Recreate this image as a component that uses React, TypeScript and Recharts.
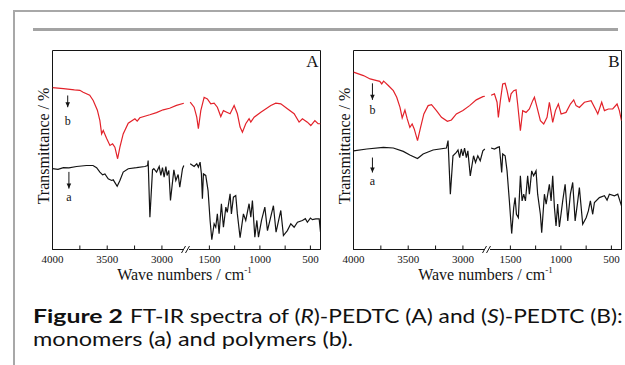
import React from "react";
import {
  LineChart,
  Line,
  XAxis,
  YAxis,
  ReferenceArea,
  ReferenceDot,
  ReferenceLine,
} from "recharts";

type Pt = [number, number];

// wavenumber ticks (cm-1)
const MAJOR_TICKS = [4000, 3500, 3000, 1500, 1000, 500];
const MINOR_TICKS = [3750, 3250, 1250, 750];

// broken axis: 4000-2800 then 1700-400
const HIGH_START = 4000;
const HIGH_END = 2800;
const LOW_START = 1700;
const LOW_END = 400;

// (R)-PEDTC, panel A  [wavenumber, transmittance]
const A_POLYMER: Pt[] = [
  [4000, 81.3], [3900, 80.8], [3800, 80.2], [3750, 80.0], [3720, 79.0], [3660, 77.5],
  [3628, 74.9], [3590, 70.0], [3567, 64.8], [3551, 58.1], [3536, 59.8], [3505, 55.8],
  [3475, 52.3], [3451, 53.1], [3430, 51.4], [3405, 45.6], [3384, 51.4], [3354, 58.1],
  [3308, 63.5], [3247, 65.7], [3226, 64.5], [3202, 66.2], [3111, 67.7], [3050, 68.8],
  [2989, 70.2], [2930, 71.0], [2867, 72.4], [2800, 73.5],
  [1690, 74.0], [1651, 71.5], [1625, 66.5], [1609, 60.7], [1585, 69.8], [1552, 76.5],
  [1520, 75.7], [1486, 73.2], [1453, 73.5], [1421, 71.5], [1387, 66.8], [1361, 69.8],
  [1328, 69.0], [1295, 68.2], [1255, 72.4], [1223, 68.2], [1196, 61.5], [1173, 58.9],
  [1140, 63.2], [1107, 65.7], [1090, 64.0], [1057, 66.5], [991, 69.0], [892, 72.4],
  [843, 73.5], [793, 73.2], [728, 70.7], [661, 68.2], [612, 64.0], [579, 65.7],
  [530, 64.0], [496, 62.3], [456, 64.8], [424, 63.2], [400, 63.2],
];

const A_MONOMER: Pt[] = [
  [4000, 40.6], [3950, 40.3], [3900, 41.1], [3850, 41.0], [3780, 41.7], [3690, 42.2],
  [3630, 42.2], [3597, 41.1], [3567, 38.9], [3542, 37.5], [3521, 38.0], [3491, 35.5],
  [3460, 34.7], [3445, 35.0], [3409, 31.8], [3384, 34.7], [3354, 38.9], [3308, 40.6],
  [3232, 41.1], [3156, 41.7], [3131, 42.2], [3126, 44.7], [3110, 16.2], [3086, 40.0],
  [3074, 40.6], [3049, 38.9], [3025, 41.7], [3010, 37.2], [2995, 41.1], [2980, 36.3],
  [2964, 41.7], [2953, 37.2], [2937, 39.7], [2922, 24.6], [2891, 40.0], [2873, 34.7],
  [2852, 37.7], [2837, 31.3], [2812, 40.6], [2800, 42.2],
  [1690, 43.1], [1651, 41.7], [1625, 43.1], [1609, 41.4], [1592, 43.9], [1579, 38.0],
  [1569, 25.5], [1559, 38.0], [1536, 37.2], [1513, 29.6], [1493, 14.6], [1476, 4.9],
  [1453, 12.9], [1437, 11.2], [1421, 17.9], [1404, 7.9], [1381, 23.0], [1361, 11.2],
  [1337, 21.3], [1323, 18.7], [1295, 28.0], [1282, 17.9], [1262, 26.3], [1239, 27.1],
  [1223, 17.9], [1196, 5.9], [1163, 17.9], [1140, 14.6], [1107, 23.0], [1090, 16.2],
  [1074, 24.6], [1050, 6.2], [1030, 14.6], [1014, 6.2], [984, 14.6], [951, 21.3],
  [925, 9.5], [866, 22.0], [840, 8.7], [793, 19.6], [767, 7.0], [728, 9.5],
  [694, 12.9], [661, 11.2], [628, 13.7], [579, 14.6], [550, 15.5], [530, 13.7],
  [500, 15.8], [480, 15.0], [446, 15.4], [413, 15.4], [400, 8.7],
];

// (S)-PEDTC, panel B
const B_POLYMER: Pt[] = [
  [4000, 89.1], [3909, 87.4], [3848, 85.7], [3787, 84.9], [3760, 84.5], [3742, 83.2],
  [3725, 84.6], [3712, 84.0], [3682, 82.4], [3636, 79.8], [3605, 76.5], [3575, 71.4],
  [3555, 66.1], [3530, 70.1], [3509, 65.6], [3485, 61.4], [3464, 63.1], [3445, 60.6],
  [3415, 54.7], [3387, 61.4], [3357, 68.1], [3318, 72.3], [3287, 72.8], [3242, 69.8],
  [3196, 66.4], [3142, 64.4], [3105, 65.1], [3060, 68.1], [3000, 69.8], [2939, 72.3],
  [2878, 75.2], [2818, 76.8], [2800, 77.0],
  [1691, 77.5], [1658, 78.2], [1632, 74.0], [1619, 66.4], [1599, 74.8], [1576, 83.2],
  [1552, 83.5], [1533, 79.8], [1510, 74.0], [1493, 78.2], [1467, 79.8], [1444, 80.2],
  [1428, 73.1], [1401, 59.7], [1378, 69.8], [1345, 68.9], [1312, 70.6], [1279, 74.8],
  [1262, 76.5], [1236, 71.4], [1203, 64.7], [1170, 63.1], [1137, 66.4], [1114, 74.0],
  [1097, 68.9], [1081, 63.9], [1054, 69.8], [1025, 73.1], [998, 68.1], [949, 68.9],
  [906, 73.1], [873, 75.2], [850, 72.3], [817, 71.4], [767, 74.0], [701, 74.8],
  [651, 69.8], [635, 68.1], [596, 74.0], [569, 69.8], [530, 70.6], [487, 70.6],
  [444, 73.1], [421, 69.8], [400, 64.7],
];

const B_MONOMER: Pt[] = [
  [4000, 49.6], [3878, 50.5], [3727, 51.3], [3636, 51.0], [3545, 49.3], [3485, 47.5],
  [3415, 45.7], [3364, 48.0], [3273, 50.0], [3151, 51.0], [3136, 54.7], [3115, 27.8],
  [3091, 47.1], [3060, 48.8], [3045, 50.0], [3030, 46.2], [3015, 50.5], [3000, 47.1],
  [2985, 51.0], [2969, 46.2], [2955, 49.6], [2933, 37.0], [2903, 47.1], [2885, 43.7],
  [2864, 47.1], [2842, 44.6], [2818, 49.6], [2800, 50.5],
  [1691, 51.0], [1658, 50.5], [1626, 51.3], [1609, 51.6], [1599, 46.2], [1586, 38.7],
  [1576, 48.0], [1552, 47.1], [1533, 39.5], [1510, 24.4], [1487, 8.0], [1467, 21.1],
  [1453, 26.1], [1440, 17.7], [1421, 16.0], [1401, 37.0], [1384, 24.4], [1368, 27.8],
  [1351, 24.4], [1329, 37.0], [1312, 27.8], [1289, 39.5], [1270, 37.0], [1246, 39.5],
  [1230, 27.8], [1203, 17.7], [1190, 8.5], [1163, 27.8], [1146, 22.8], [1114, 32.8],
  [1097, 24.4], [1081, 37.0], [1064, 21.1], [1048, 11.8], [1032, 22.8], [1015, 11.3],
  [982, 24.4], [958, 32.8], [932, 14.4], [906, 27.8], [883, 33.7], [859, 14.4],
  [833, 24.4], [817, 31.1], [784, 12.7], [750, 16.0], [728, 19.4], [708, 24.4],
  [685, 17.7], [668, 23.6], [619, 26.1], [569, 27.0], [543, 24.8], [520, 27.8],
  [470, 27.0], [437, 27.8], [400, 21.9],
];

// arrow markers: [wavenumber, arrow top, arrow tip, label position]
const A_MARK_POLY = [3861, 77.4, 71.5, 64.6];
const A_MARK_MONO = [3850, 39.0, 30.6, 26.6];
const B_MARK_POLY = [3827, 83.5, 75.2, 70.1];
const B_MARK_MONO = [3827, 46.2, 38.7, 34.5];

const RED = "#e3222a";
const INK = "#141414";
const SERIF = "'Liberation Serif', 'Times New Roman', serif";
const SANS = "Lato, 'Open Sans', sans-serif";

const toU = (w: number) =>
  w >= HIGH_END
    ? ((HIGH_START - w) / (HIGH_START - HIGH_END)) * 49
    : 51 + ((LOW_START - w) / (LOW_START - LOW_END)) * 49;

const TICK_W = [...MAJOR_TICKS, ...MINOR_TICKS];
const TICK_U = TICK_W.map(toU);

const split = (pts: Pt[]) => [
  pts.filter((p) => p[0] >= HIGH_END).map(([w, t]) => ({ u: toU(w), t })),
  pts.filter((p) => p[0] <= LOW_START).map(([w, t]) => ({ u: toU(w), t })),
];

const AxisTick = (props: any) => {
  const { x, y, payload } = props;
  const w = TICK_W[TICK_U.indexOf(payload.value)];
  return (
    <g>
      <line x1={x} x2={x} y1={y} y2={y - 4} stroke={INK} strokeWidth={1} />
      {MAJOR_TICKS.includes(w) && (
        <text x={x} y={y + 13} textAnchor="middle" fontFamily={SERIF} fontSize={11} fill={INK}>
          {w}
        </text>
      )}
    </g>
  );
};

const XLabel = (props: any) => {
  const vb = props.viewBox;
  const cx = vb.x + vb.width / 2 - 2;
  return (
    <text x={cx} y={vb.y + 30.5} textAnchor="middle" fontFamily={SERIF} fontSize={16} fill={INK}>
      Wave numbers / cm
      <tspan dy={-7} fontSize={9}>-1</tspan>
    </text>
  );
};

const YLabel = (props: any) => {
  const vb = props.viewBox;
  const cx = vb.x + vb.width / 2;
  const cy = vb.y + vb.height / 2 - 4;
  return (
    <text
      x={cx}
      y={cy}
      transform={`rotate(-90 ${cx} ${cy})`}
      textAnchor="middle"
      dominantBaseline="central"
      fontFamily={SERIF}
      fontSize={16}
      fill={INK}
    >
      Transmittance / %
    </text>
  );
};

const arrowHead = (props: any) => {
  const { cx, cy } = props;
  return <polygon points={`${cx - 2.3},${cy - 5} ${cx + 2.3},${cy - 5} ${cx},${cy}`} fill={INK} />;
};

const letterShape = (text: string) => (props: any) => (
  <text
    x={props.cx}
    y={props.cy}
    textAnchor="middle"
    dominantBaseline="central"
    fontFamily={SERIF}
    fontSize={12}
    fill={INK}
  >
    {text}
  </text>
);

const breakShape = (props: any) => {
  const { cx, cy } = props;
  return (
    <g>
      <rect x={cx - 2.5} y={cy - 1.5} width={5} height={3} fill="#fff" />
      <line x1={cx - 5} y1={cy + 3.5} x2={cx - 1} y2={cy - 3.5} stroke={INK} />
      <line x1={cx - 1} y1={cy + 3.5} x2={cx + 3} y2={cy - 3.5} stroke={INK} />
    </g>
  );
};

interface PanelProps {
  letter: string;
  polymer: Pt[];
  monomer: Pt[];
  markPoly: number[];
  markMono: number[];
  width: number;
  left: number;
  right: number;
}

const Panel: React.FC<PanelProps> = ({ letter, polymer, monomer, markPoly, markMono, width, left, right }) => {
  const polySegs = split(polymer);
  const monoSegs = split(monomer);

  const arrow = (m: number[], label: string) => [
    <ReferenceLine
      key={`${label}-shaft`}
      segment={[
        { x: toU(m[0]), y: m[1] },
        { x: toU(m[0]), y: m[2] },
      ]}
      stroke={INK}
      strokeWidth={1}
      ifOverflow="visible"
    />,
    <ReferenceDot key={`${label}-head`} x={toU(m[0])} y={m[2]} r={0} shape={arrowHead} ifOverflow="visible" />,
    <ReferenceDot key={`${label}-text`} x={toU(m[0])} y={m[3]} r={0} shape={letterShape(label)} ifOverflow="visible" />,
  ];

  return (
    <LineChart width={width} height={290} margin={{ top: 50.5, right, bottom: 0, left }}>
      <XAxis
        type="number"
        dataKey="u"
        domain={[0, 100]}
        ticks={TICK_U}
        interval={0}
        tick={AxisTick}
        tickLine={false}
        tickSize={0}
        tickMargin={0}
        axisLine={{ stroke: INK }}
        height={40.5}
        allowDataOverflow
        label={{ content: XLabel }}
      />
      <YAxis
        type="number"
        domain={[0, 100]}
        width={19}
        tick={false}
        tickLine={false}
        axisLine={false}
        allowDataOverflow
        label={{ content: YLabel }}
      />
      <ReferenceArea
        x1={0}
        x2={100}
        y1={0}
        y2={100}
        fill="none"
        fillOpacity={0}
        stroke={INK}
        strokeWidth={1}
        ifOverflow="visible"
        label={{
          content: (p: any) => (
            <text
              x={p.viewBox.x + p.viewBox.width - 2}
              y={p.viewBox.y + 16.5}
              textAnchor="end"
              fontFamily={SERIF}
              fontSize={17}
              fill={INK}
            >
              {letter}
            </text>
          ),
        }}
      />
      {polySegs.map((d, i) => (
        <Line
          key={`p${i}`}
          data={d}
          dataKey="t"
          type="linear"
          stroke={RED}
          strokeWidth={1.2}
          dot={false}
          activeDot={false}
          isAnimationActive={false}
        />
      ))}
      {monoSegs.map((d, i) => (
        <Line
          key={`m${i}`}
          data={d}
          dataKey="t"
          type="linear"
          stroke={INK}
          strokeWidth={1.2}
          dot={false}
          activeDot={false}
          isAnimationActive={false}
        />
      ))}
      {arrow(markPoly, "b")}
      {arrow(markMono, "a")}
      <ReferenceDot x={50} y={0} r={0} shape={breakShape} ifOverflow="visible" />
    </LineChart>
  );
};

// figure caption, stretched to the widths of the printed lines
const Caption = () => (
  <svg width={625} height={365} style={{ position: "absolute", left: 0, top: 0 }}>
    <g fontFamily={SANS} fontSize={18.6} fill="#111">
      <text x={33} y={323.3} fontWeight={700} textLength={90} lengthAdjust="spacingAndGlyphs">
        Figure 2
      </text>
      <text x={130} y={323.3} textLength={492.7} lengthAdjust="spacingAndGlyphs">
        FT-IR spectra of (<tspan fontStyle="italic">R</tspan>)-PEDTC (A) and (
        <tspan fontStyle="italic">S</tspan>)-PEDTC (B):
      </text>
      <text x={33} y={345.7} textLength={320} lengthAdjust="spacingAndGlyphs">
        monomers (a) and polymers (b).
      </text>
    </g>
  </svg>
);

export default function App() {
  return (
    <div style={{ position: "relative", width: 625, height: 365, background: "#fff", overflow: "hidden" }}>
      <style>{"body{margin:0}"}</style>
      <div style={{ position: "absolute", left: 13, top: 10, right: 0, height: 2, background: "#a8a8a8" }} />
      <div style={{ position: "absolute", left: 13, top: 10, width: 2, bottom: 0, background: "#a8a8a8" }} />
      <div style={{ position: "absolute", left: 33, top: 28, width: 585, height: 3, background: "#a3a3a3" }} />
      <Caption />
      <div style={{ position: "absolute", left: 0, top: 0 }}>
        <Panel
          letter="A"
          polymer={A_POLYMER}
          monomer={A_MONOMER}
          markPoly={A_MARK_POLY}
          markMono={A_MARK_MONO}
          width={330}
          left={33.5}
          right={9.5}
        />
      </div>
      <div style={{ position: "absolute", left: 300, top: 0 }}>
        <Panel
          letter="B"
          polymer={B_POLYMER}
          monomer={B_MONOMER}
          markPoly={B_MARK_POLY}
          markMono={B_MARK_MONO}
          width={325}
          left={34.5}
          right={3.5}
        />
      </div>
    </div>
  );
}
